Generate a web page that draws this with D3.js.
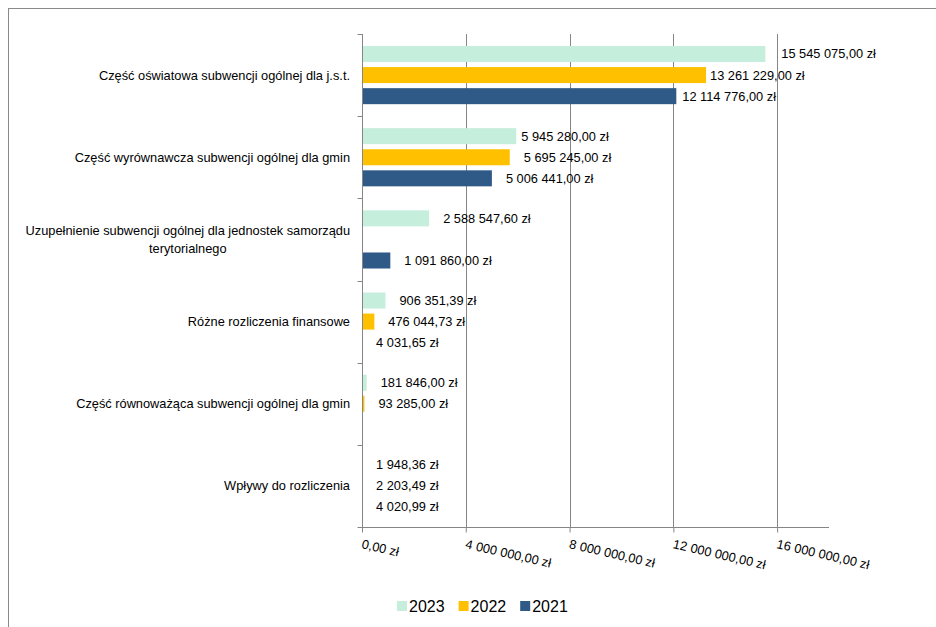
<!DOCTYPE html>
<html><head><meta charset="utf-8">
<script src="https://cdn.jsdelivr.net/npm/d3@7"></script>
<style>
html,body{margin:0;padding:0;background:#fff;}
svg{display:block;font-family:"Liberation Sans",Arial,sans-serif;}
</style></head>
<body>
<svg id="chart" width="936" height="627"></svg>
<script>
const categories = [
  "Część oświatowa subwencji ogólnej dla j.s.t.",
  "Część wyrównawcza subwencji ogólnej dla gmin",
  "Uzupełnienie subwencji ogólnej dla jednostek samorządu terytorialnego",
  "Różne rozliczenia finansowe",
  "Część równoważąca subwencji ogólnej dla gmin",
  "Wpływy do rozliczenia"
];
const seriesNames = ["2023", "2022", "2021"];
const values2023 = [15545075.00, 5945280.00, 2588547.60, 906351.39, 181846.00, 1948.36];
const values2022 = [13261229.00, 5695245.00, null, 476044.73, 93285.00, 2203.49];
const values2021 = [12114776.00, 5006441.00, 1091860.00, 4031.65, null, 4020.99];
const xTicks = [0, 4000000, 8000000, 12000000, 16000000];
const xMax = 18000000;

const colors = {"2023": "#C6EEDC", "2022": "#FFC000", "2021": "#2F5A88"};
// label nudges (style only, px added to default offset)
const labelNudge = {"0|2023": 2, "0|2022": -10, "0|2021": -8, "1|2023": -9};
const FS = 12.8;

const seriesValues = {"2023": values2023, "2022": values2022, "2021": values2021};
const rows = categories.map((c, i) => ({cat: c, idx: i,
  vals: seriesNames.map(s => ({series: s, value: seriesValues[s][i]}))}));

const svg = d3.select("#chart");
const plot = {left: 362, right: 829, top: 34, bottom: 527};

// chart frame
svg.append("rect").attr("x", 8.5).attr("y", 8.5).attr("width", 1000).attr("height", 1000)
  .attr("fill", "none").attr("stroke", "#8a8a8a").attr("stroke-width", 1);

const x = d3.scaleLinear().domain([0, xMax]).range([plot.left, plot.right]);
const y0 = d3.scaleBand().domain(d3.range(categories.length)).range([plot.top, plot.bottom]).padding(0);
const bw = y0.bandwidth();
const y1 = d3.scaleBand().domain(seriesNames).range([bw * 0.146, bw * 0.854])
  .paddingInner(0.24).paddingOuter(0);

const loc = d3.formatLocale({decimal: ",", thousands: " ", grouping: [3], currency: ["", " zł"]});
const fmt = v => loc.format(",.2f")(v) + " zł";

// gridlines
svg.append("g").selectAll("line").data(xTicks.filter(t => t > 0)).join("line")
  .attr("x1", d => Math.round(x(d)) + 0.5).attr("x2", d => Math.round(x(d)) + 0.5)
  .attr("y1", plot.top).attr("y2", plot.bottom)
  .attr("stroke", "#868686").attr("stroke-width", 1);

// bars
const g = svg.append("g");
rows.forEach(r => {
  const gy = y0(r.idx);
  r.vals.forEach(v => {
    if (v.value == null) return;
    g.append("rect")
      .attr("x", x(0)).attr("y", gy + y1(v.series))
      .attr("width", Math.max(0, x(v.value) - x(0))).attr("height", y1.bandwidth())
      .attr("fill", colors[v.series]);
  });
});

// x axis
const xAxis = d3.axisBottom(x).tickValues(xTicks).tickSize(5).tickFormat("");
const xg = svg.append("g").attr("transform", `translate(0,${plot.bottom + 0.5})`).call(xAxis);
xg.select(".domain").attr("stroke", "#868686").attr("d", `M${plot.left},0H${plot.right}`);
xg.selectAll(".tick line").attr("stroke", "#868686");
svg.append("g").selectAll("text").data(xTicks).join("text")
  .attr("transform", d => `translate(${x(d) - 1},${plot.bottom + 21}) rotate(13)`)
  .attr("font-size", FS).attr("fill", "#000").text(d => fmt(d));

// y axis
const yg = svg.append("g").attr("transform", `translate(${plot.left + 0.5},0)`);
yg.append("line").attr("y1", plot.top).attr("y2", plot.bottom).attr("stroke", "#868686");
const bounds = d3.range(categories.length + 1).map(i => plot.top + i * bw);
yg.selectAll(".yt").data(bounds).join("line")
  .attr("x1", -5).attr("x2", 0).attr("y1", d => Math.round(d) + 0.5).attr("y2", d => Math.round(d) + 0.5)
  .attr("stroke", "#868686");

// value labels
rows.forEach(r => {
  const gy = y0(r.idx);
  r.vals.forEach(v => {
    if (v.value == null) return;
    const n = labelNudge[r.idx + "|" + v.series] || 0;
    svg.append("text")
      .attr("x", x(v.value) + 14 + n)
      .attr("y", gy + y1(v.series) + y1.bandwidth() / 2)
      .attr("dy", "0.35em").attr("font-size", FS).attr("fill", "#000")
      .text(fmt(v.value));
  });
});

// category labels with wrapping
const labelRight = 350, maxW = 340;
rows.forEach(r => {
  const cy = y0(r.idx) + bw / 2;
  const words = r.cat.split(" ");
  const tmp = svg.append("text").attr("font-size", FS);
  const lines = []; let cur = [];
  words.forEach(w => {
    const trial = cur.concat([w]).join(" ");
    tmp.text(trial);
    if (tmp.node().getComputedTextLength() > maxW && cur.length) { lines.push(cur.join(" ")); cur = [w]; }
    else cur.push(w);
  });
  lines.push(cur.join(" "));
  const widths = lines.map(l => { tmp.text(l); return tmp.node().getComputedTextLength(); });
  tmp.remove();
  const blockW = d3.max(widths);
  const cx = labelRight - blockW / 2;
  const lh = 18;
  lines.forEach((l, i) => {
    svg.append("text").attr("x", cx).attr("text-anchor", "middle")
      .attr("y", cy + (i - (lines.length - 1) / 2) * lh).attr("dy", "0.35em")
      .attr("font-size", FS).attr("fill", "#000").text(l);
  });
});

// legend
const leg = svg.append("g");
let lx = 397;
seriesNames.forEach(s => {
  leg.append("rect").attr("x", lx).attr("y", 601).attr("width", 10).attr("height", 10).attr("fill", colors[s]);
  const t = leg.append("text").attr("x", lx + 12).attr("y", 612).attr("font-size", 16).attr("fill", "#000").text(s);
  lx += 12 + t.node().getComputedTextLength() + 14;
});
</script>
</body></html>
